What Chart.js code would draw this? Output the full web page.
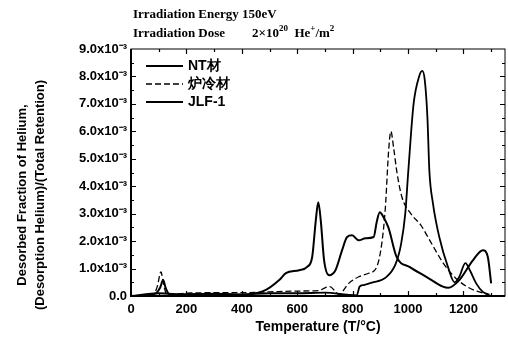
<!DOCTYPE html>
<html>
<head>
<meta charset="utf-8">
<script src="https://cdn.jsdelivr.net/npm/chart.js@4.4.0/dist/chart.umd.min.js"></script>
<style>
  html, body { margin: 0; padding: 0; background: #fff; }
</style>
</head>
<body>
<canvas id="chart" width="508" height="350"></canvas>
<script>
// valores em unidades de 10^-3
const ntTemp = [0, 50, 90, 105, 116, 125, 140, 200, 300, 400, 427, 487, 535, 559, 607, 636, 654, 667, 676, 685, 697, 715, 738, 762, 780, 798, 822, 846, 876, 887, 898, 910, 929, 959, 1005, 1066, 1126, 1145, 1185, 1234, 1270, 1288, 1300];
const ntVal  = [0, 0.02, 0.1, 0.3, 0.58, 0.3, 0.05, 0.06, 0.08, 0.05, 0.06, 0.22, 0.58, 0.83, 0.94, 1.06, 1.42, 2.75, 3.42, 2.75, 1.3, 0.76, 0.94, 1.67, 2.15, 2.21, 2.03, 2.1, 2.15, 2.7, 3.05, 2.9, 2.5, 1.42, 1.06, 0.7, 0.34, 0.3, 0.58, 1.3, 1.67, 1.42, 0.46];

const roTemp = [0, 80, 95, 108, 118, 130, 200, 300, 400, 500, 600, 680, 700, 718, 735, 750, 786, 822, 858, 887, 905, 918, 930, 938, 948, 960, 978, 1010, 1045, 1080, 1127, 1172, 1220, 1280, 1305];
const roVal  = [0, 0.05, 0.35, 0.88, 0.4, 0.05, 0.1, 0.12, 0.12, 0.15, 0.18, 0.2, 0.3, 0.34, 0.2, 0.05, 0.46, 0.7, 0.83, 1.06, 1.9, 3.2, 5.3, 6.0, 5.4, 4.5, 3.6, 3.0, 2.6, 2.0, 1.2, 0.65, 0.3, 0.08, 0];

const jlfTemp = [0, 100, 200, 300, 400, 500, 600, 700, 780, 815, 825, 840, 870, 919, 955, 975, 990, 1001, 1020, 1040, 1051, 1060, 1070, 1077, 1090, 1113, 1144, 1168, 1185, 1207, 1225, 1246, 1270, 1293];
const jlfVal  = [0, 0.1, 0.05, 0.08, 0.06, 0.1, 0.1, 0.12, 0.05, 0.02, 0.34, 0.4, 0.49, 0.67, 1.16, 1.9, 3.0, 4.56, 7.0, 8.0, 8.2, 7.9, 6.5, 4.56, 3.37, 2.14, 1.06, 0.5, 0.7, 1.2, 0.9, 0.46, 0.15, 0.05];

const seriesNames = ['NT材', '炉冷材', 'JLF-1'];
const xTickValues = [0, 200, 400, 600, 800, 1000, 1200];
const yTickValues = [0, 1, 2, 3, 4, 5, 6, 7, 8, 9];

const FONT = "'Liberation Sans', Arial, sans-serif";
const SERIF = "'Liberation Serif', 'Times New Roman', serif";

function pontos(ts, vs) {
  return ts.map((t, i) => ({ x: t, y: vs[i] }));
}

// moldura, marcas internas, legenda e textos
const extras = {
  id: 'extras',
  afterDatasetsDraw(chart) {
    const ctx = chart.ctx;
    const a = chart.chartArea;
    const xs = chart.scales.x, ys = chart.scales.y;
    ctx.save();
    ctx.strokeStyle = '#000';

    // moldura
    ctx.lineWidth = 1;
    ctx.strokeRect(a.left, a.top, a.right - a.left, a.bottom - a.top);
    ctx.lineWidth = 2;
    ctx.beginPath();
    ctx.moveTo(a.left, a.top); ctx.lineTo(a.left, a.bottom); ctx.lineTo(a.right, a.bottom);
    ctx.stroke();

    // marcas do eixo x (dentro)
    ctx.lineWidth = 1.2;
    for (let t = 100; t <= 1300; t += 100) {
      const px = Math.round(xs.getPixelForValue(t)) + 0.5;
      const len = t % 200 === 0 ? 5 : 3;
      ctx.beginPath();
      ctx.moveTo(px, a.bottom); ctx.lineTo(px, a.bottom - len);
      ctx.moveTo(px, a.top); ctx.lineTo(px, a.top + len);
      ctx.stroke();
    }
    // marcas do eixo y (dentro)
    for (let v = 0.5; v < 9; v += 0.5) {
      const py = Math.round(ys.getPixelForValue(v)) + 0.5;
      const len = Number.isInteger(v) ? 5 : 3;
      ctx.beginPath();
      ctx.moveTo(a.left, py); ctx.lineTo(a.left + len, py);
      ctx.moveTo(a.right, py); ctx.lineTo(a.right - len, py);
      ctx.stroke();
    }

    // legenda
    ctx.font = 'bold 14px ' + FONT;
    ctx.fillStyle = '#000';
    ctx.textBaseline = 'middle';
    chart.data.datasets.forEach((ds, i) => {
      const y = 66 + i * 18;
      ctx.lineWidth = ds.borderWidth;
      ctx.setLineDash(ds.borderDash || []);
      ctx.beginPath();
      ctx.moveTo(146, y); ctx.lineTo(183, y);
      ctx.stroke();
      ctx.setLineDash([]);
      ctx.fillText(ds.label, 188, y);
    });

    // titulo do eixo y (duas linhas)
    ctx.save();
    ctx.font = 'bold 13px ' + FONT;
    ctx.textAlign = 'center';
    ctx.translate(0, 195);
    ctx.rotate(-Math.PI / 2);
    ctx.fillText('Desorbed Fraction of Helium,', 0, 22);
    ctx.fillText('(Desorption Helium)/(Total Retention)', 0, 40);
    ctx.restore();

    // condicoes de irradiacao
    ctx.textBaseline = 'alphabetic';
    ctx.textAlign = 'left';
    ctx.font = 'bold 13px ' + SERIF;
    ctx.fillText('Irradiation Energy 150eV', 133, 18);
    ctx.fillText('Irradiation Dose', 133, 37);
    let x = 252;
    const partes = [['2\u00d710', false], ['20', true], ['  He', false], ['+', true], ['/m', false], ['2', true]];
    partes.forEach(([txt, sup]) => {
      ctx.font = (sup ? 'bold 9px ' : 'bold 13px ') + SERIF;
      ctx.fillText(txt, x, sup ? 31 : 37);
      x += ctx.measureText(txt).width;
    });
    ctx.restore();
  }
};

const ctx = document.getElementById('chart').getContext('2d');
new Chart(ctx, {
  type: 'line',
  data: {
    datasets: [
      { label: seriesNames[0], data: pontos(ntTemp, ntVal), borderColor: '#000', borderWidth: 2 },
      { label: seriesNames[1], data: pontos(roTemp, roVal), borderColor: '#000', borderWidth: 1.3, borderDash: [6, 3] },
      { label: seriesNames[2], data: pontos(jlfTemp, jlfVal), borderColor: '#000', borderWidth: 1.8 }
    ].map(d => Object.assign(d, { pointRadius: 0, fill: false, cubicInterpolationMode: 'monotone' }))
  },
  options: {
    responsive: false,
    animation: false,
    layout: { padding: { left: 0, right: 3, top: 49, bottom: 0 } },
    plugins: { legend: { display: false }, tooltip: { enabled: false } },
    scales: {
      x: {
        type: 'linear', min: 0, max: 1350,
        grid: { display: false, drawTicks: false },
        border: { display: false },
        afterBuildTicks: s => { s.ticks = xTickValues.map(v => ({ value: v })); },
        ticks: {
          autoSkip: false, maxRotation: 0, padding: 6, color: '#000',
          font: { family: FONT, size: 13, weight: 'bold' },
          callback: v => String(v)
        },
        title: {
          display: true, text: 'Temperature (T/\u00b0C)', color: '#000',
          font: { family: FONT, size: 14, weight: 'bold' },
          padding: { top: 8, bottom: 14 }
        },
        afterFit: s => { s.height = 54; }
      },
      y: {
        min: 0, max: 9,
        grid: { display: false, drawTicks: false },
        border: { display: false },
        afterBuildTicks: s => { s.ticks = yTickValues.map(v => ({ value: v })); },
        ticks: {
          padding: 4, color: '#000',
          font: { family: FONT, size: 13, weight: 'bold' },
          callback: v => v === 0 ? '0.0' : v.toFixed(1) + 'x10\u207b\u00b3'
        },
        afterFit: s => { s.width = 131; }
      }
    }
  },
  plugins: [extras]
});
</script>
</body>
</html>
